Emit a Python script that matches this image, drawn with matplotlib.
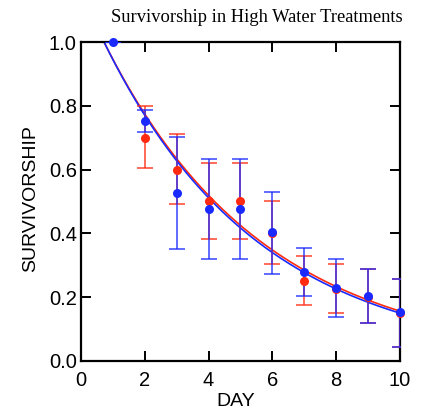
import numpy as np
import matplotlib
matplotlib.use("Agg")
import matplotlib.pyplot as plt

# Data
days_red = [2, 3, 4, 5, 6, 7, 8, 9, 10]
surv_red = [0.70, 0.60, 0.50, 0.50, 0.40, 0.25, 0.225, 0.20, 0.15]
lo_red = [0.605, 0.493, 0.383, 0.383, 0.304, 0.176, 0.151, 0.120, 0.045]
hi_red = [0.799, 0.711, 0.622, 0.622, 0.500, 0.329, 0.303, 0.287, 0.257]

days_blue = [1, 2, 3, 4, 5, 6, 7, 8, 9, 10]
surv_blue = [1.0, 0.752, 0.528, 0.477, 0.477, 0.403, 0.278, 0.228, 0.204, 0.154]
lo_blue = [1.0, 0.718, 0.351, 0.321, 0.321, 0.273, 0.204, 0.139, 0.120, 0.045]
hi_blue = [1.0, 0.787, 0.703, 0.633, 0.633, 0.531, 0.353, 0.319, 0.287, 0.257]

# Fitted exponential decay parameters (y = a * exp(-b * x))
fit_red = (1.155, 0.200)
fit_blue = (1.159, 0.2045)

RED = "#ff2a10"
BLUE = "#1a2aff"

fig = plt.figure(figsize=(4.23, 4.11), dpi=100)
ax = fig.add_axes([0.1915, 0.1217, 0.7541, 0.7761])

xs = np.linspace(0, 10, 400)
for (a, b), c in [(fit_red, RED), (fit_blue, BLUE)]:
    ax.plot(xs, a * np.exp(-b * xs), color=c, lw=1.2, zorder=2)

def draw(days, surv, lo, hi, color):
    d = np.array(days); s = np.array(surv)
    yerr = np.vstack([s - np.array(lo), np.array(hi) - s])
    ax.errorbar(d, s, yerr=yerr, fmt="none", ecolor=color, elinewidth=1.3,
                capsize=6, capthick=1.3, alpha=0.75, zorder=3)
    ax.plot(d, s, "o", color=color, ms=6.5, mec="none", zorder=4, clip_on=False)

draw(days_red, surv_red, lo_red, hi_red, RED)
draw(days_blue, surv_blue, lo_blue, hi_blue, BLUE)

ax.set_xlim(0, 10)
ax.set_ylim(0, 1.0)
ax.set_xticks([0, 2, 4, 6, 8, 10])
ax.set_yticks([0.0, 0.2, 0.4, 0.6, 0.8, 1.0])
ax.set_yticklabels(["0.0", "0.2", "0.4", "0.6", "0.8", "1.0"])
for sp in ax.spines.values():
    sp.set_linewidth(1.6)
ax.tick_params(direction="in", length=7, width=1.4, top=True, right=True,
               labelsize=14.5)
ax.tick_params(axis="y", pad=3)
ax.tick_params(axis="x", pad=7)
for lab in ax.get_xticklabels() + ax.get_yticklabels():
    lab.set_family(["Liberation Sans", "DejaVu Sans"])

fig.text(236 / 423, 1 - 401 / 411, "DAY", ha="center", va="center",
         fontsize=14, family=["Liberation Sans", "DejaVu Sans"])
fig.text(31 / 423, 1 - 199 / 411, "SURVIVORSHIP", ha="center", va="center",
         rotation=90, fontsize=14, family=["Liberation Sans", "DejaVu Sans"])
fig.text(257 / 423, 1 - 18 / 411, "Survivorship in High Water Treatments",
         ha="center", va="center", fontsize=13.3,
         family=["Liberation Serif", "DejaVu Serif"])

fig.savefig("out.png", dpi=100)
